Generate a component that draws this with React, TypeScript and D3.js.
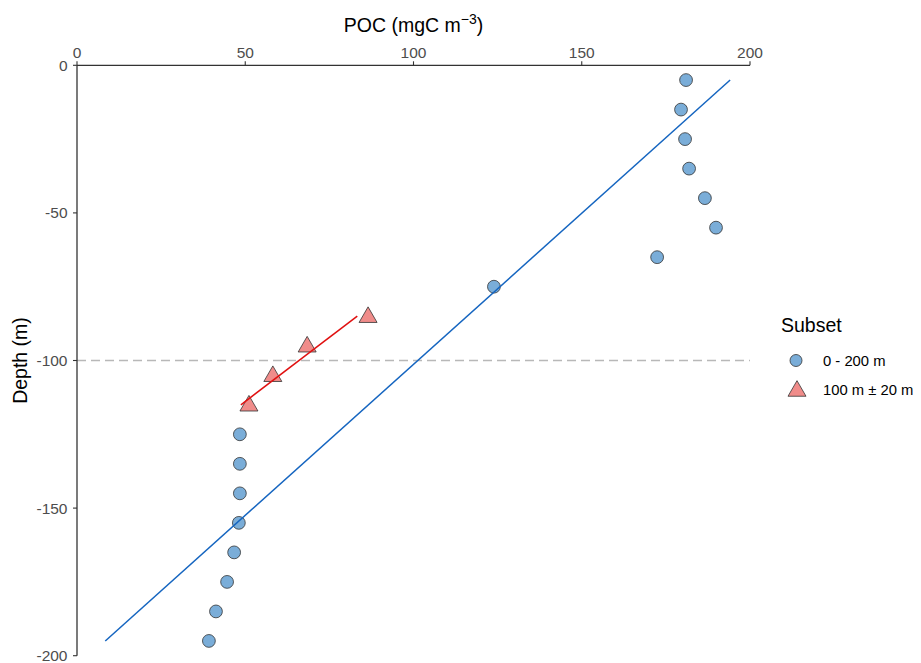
import React from "react";
import * as d3 from "d3";

const depthsAll = [-5, -15, -25, -35, -45, -55, -65, -75, -125, -135, -145, -155, -165, -175, -185, -195];
const pocAll = [181.0, 179.5, 180.7, 181.9, 186.6, 189.9, 172.4, 123.9, 48.4, 48.4, 48.4, 48.1, 46.7, 44.6, 41.3, 39.2];
const depthsSub = [-85, -95, -105, -115];
const pocSub = [86.5, 68.4, 58.2, 51.1];
const fitAllDepth = [-5, -195];
const fitAllPoc = [194.1, 8.4];
const fitSubDepth = [-85, -115];
const fitSubPoc = [83.3, 48.7];
const xTicks = [0, 50, 100, 150, 200];
const yTicks = [0, -50, -100, -150, -200];
const refDepth = -100;

export default function App() {
  const W = 921, H = 663;
  const left = 77, right = 750, top = 65.3, bottom = 655.7;
  const x = d3.scaleLinear().domain([0, 200]).range([left, right]);
  const y = d3.scaleLinear().domain([0, -200]).range([top, bottom]);
  const line = d3.line<[number, number]>().x(d => x(d[0])).y(d => y(d[1]));
  const font = "Liberation Sans, Arial, sans-serif";
  const tri = (cx: number, cy: number, s: number) => {
    const h = s * 0.866;
    return `M${cx},${cy - h * 0.6} L${cx + s / 2},${cy + h * 0.4} L${cx - s / 2},${cy + h * 0.4} Z`;
  };
  const circleFill = "#7aadd8";
  const triFill = "#f08c8a";
  const stroke = "#333333";
  const tickFs = 15.5;
  const legFs = 14.8;
  const titleFs = 19.5;
  return (
    <svg width={W} height={H} style={{ position: "absolute", left: 0, top: 0, background: "#fff" }} fontFamily={font}>
      <line x1={x(0)} x2={x(200)} y1={y(refDepth)} y2={y(refDepth)} stroke="#b8b8b8" strokeWidth={1.3} strokeDasharray="9,5" />
      {depthsAll.map((d, i) => (
        <circle key={"c" + i} cx={x(pocAll[i])} cy={y(d)} r={6.4} fill={circleFill} stroke={stroke} strokeWidth={0.8} />
      ))}
      {depthsSub.map((d, i) => (
        <path key={"t" + i} d={tri(x(pocSub[i]), y(d), 18)} fill={triFill} stroke={stroke} strokeWidth={0.8} />
      ))}
      <path d={line(fitAllDepth.map((d, i) => [fitAllPoc[i], d] as [number, number])) || ""} stroke="#1565c0" strokeWidth={1.5} fill="none" />
      <path d={line(fitSubDepth.map((d, i) => [fitSubPoc[i], d] as [number, number])) || ""} stroke="#e01010" strokeWidth={1.5} fill="none" />
      <line x1={x(0)} x2={x(200)} y1={top} y2={top} stroke="#333" strokeWidth={1.3} />
      <line x1={left} x2={left} y1={top} y2={bottom} stroke="#333" strokeWidth={1.3} />
      {xTicks.map(t => (
        <g key={"xt" + t}>
          <line x1={x(t)} x2={x(t)} y1={top} y2={top - 4} stroke="#333" strokeWidth={1.1} />
          <text x={x(t)} y={top - 7.3} textAnchor="middle" fontSize={tickFs} fill="#4d4d4d">{t}</text>
        </g>
      ))}
      {yTicks.map(t => (
        <g key={"yt" + t}>
          <line x1={left - 4} x2={left} y1={y(t)} y2={y(t)} stroke="#333" strokeWidth={1.1} />
          <text x={left - 9.5} y={y(t)} dy="0.35em" textAnchor="end" fontSize={tickFs} fill="#4d4d4d">{t}</text>
        </g>
      ))}
      <text x={(left + right) / 2} y={31.5} textAnchor="middle" fontSize={titleFs} fill="#000">
        POC (mgC m<tspan dy={-8} fontSize={14}>−3</tspan><tspan dy={8}>)</tspan>
      </text>
      <text transform={`translate(27,${(top + bottom) / 2}) rotate(-90)`} textAnchor="middle" fontSize={titleFs} fill="#000">Depth (m)</text>
      <text x={781} y={332} fontSize={titleFs} fill="#000">Subset</text>
      <circle cx={796} cy={360.5} r={6} fill={circleFill} stroke={stroke} strokeWidth={0.8} />
      <text x={823} y={360.5} dy="0.35em" fontSize={legFs} fill="#000">0 - 200 m</text>
      <path d={tri(797, 390, 18)} fill={triFill} stroke={stroke} strokeWidth={0.8} />
      <text x={823} y={389.5} dy="0.35em" fontSize={legFs} fill="#000">100 m ± 20 m</text>
    </svg>
  );
}
